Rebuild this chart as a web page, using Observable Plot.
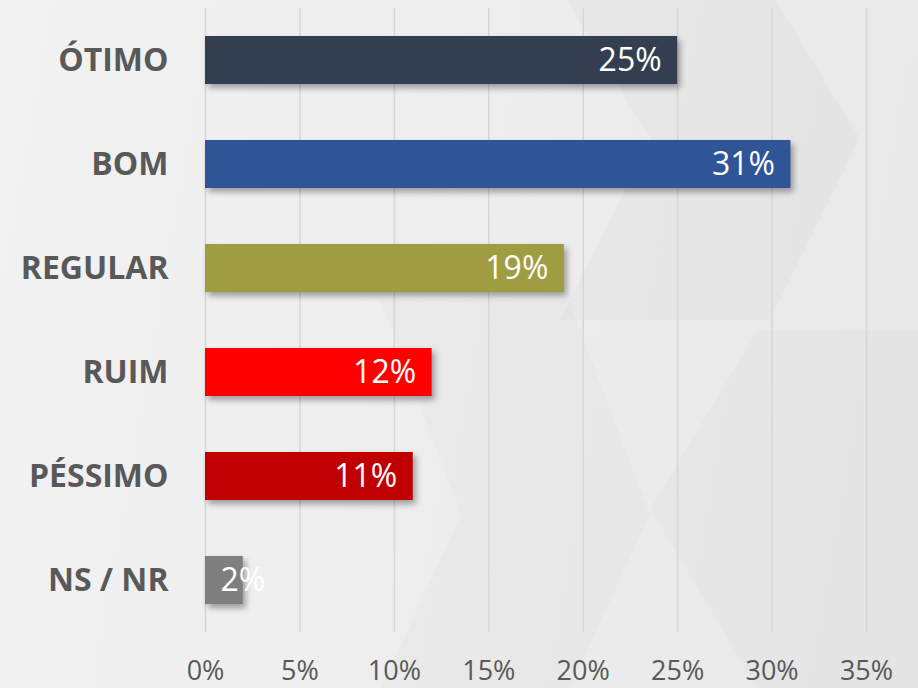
<!DOCTYPE html>
<html>
<head>
<meta charset="utf-8">
<script src="https://cdn.jsdelivr.net/npm/d3@7"></script>
<script src="https://cdn.jsdelivr.net/npm/@observablehq/plot@0.6"></script>
<style>
  html, body { margin: 0; padding: 0; }
  body {
    width: 918px; height: 688px; overflow: hidden; position: relative;
    background: linear-gradient(100deg, #f2f2f2 0%, #eeeeee 45%, #e8e8e8 100%);
  }
  .deco { position: absolute; pointer-events: none; }
  #chart { position: absolute; left: 0; top: 0; }
  #chart svg { background: transparent; }
  .bars rect { filter: drop-shadow(3px 4px 3px rgba(0,0,0,0.35)); }
</style>
</head>
<body>
<div class="deco" style="left:560px;top:-10px;width:300px;height:330px;background:rgba(0,0,0,0.018);clip-path:polygon(0 0,70% 0,100% 45%,70% 100%,0 100%,30% 45%);"></div>
<div class="deco" style="left:380px;top:300px;width:270px;height:390px;background:rgba(0,0,0,0.015);clip-path:polygon(0 0,70% 0,100% 55%,70% 100%,0 100%,30% 55%);"></div>
<div class="deco" style="left:650px;top:330px;width:268px;height:358px;background:rgba(0,0,0,0.015);clip-path:polygon(40% 0,100% 0,100% 100%,40% 100%,0 50%);"></div>
<div id="chart"></div>
<script>
const categories = ["ÓTIMO", "BOM", "REGULAR", "RUIM", "PÉSSIMO", "NS / NR"];
const values = [0.25, 0.31, 0.19, 0.12, 0.11, 0.02];
const colors = ["#333f50", "#2f5597", "#9f9c42", "#ff0000", "#c00000", "#7f7f7f"];
const xTicks = [0, 0.05, 0.10, 0.15, 0.20, 0.25, 0.30, 0.35];

const data = categories.map((c, i) => ({category: c, value: values[i], color: colors[i]}));
const fmt = d3.format(".0%");
const big = data.filter(d => d.value >= 0.05);
const small = data.filter(d => d.value < 0.05);

const chart = Plot.plot({
  width: 918,
  height: 688,
  marginLeft: 205,
  marginRight: 52,
  marginTop: 8,
  marginBottom: 56,
  style: {fontFamily: "'Open Sans', sans-serif", background: "transparent"},
  x: {domain: [0, 0.35], ticks: xTicks, tickFormat: fmt},
  y: {domain: categories, paddingInner: 0.54, paddingOuter: 0.26},
  marks: [
    Plot.gridX(xTicks, {stroke: "#d6d6d6", strokeOpacity: 1, strokeWidth: 1.5}),
    Plot.barX(data, {y: "category", x: "value", fill: "color", className: "bars"}),
    Plot.text(big, {y: "category", x: "value", text: d => fmt(d.value), textAnchor: "end", dx: -16, fill: "white", fontSize: 32}),
    Plot.text(small, {y: "category", x: 0, text: d => fmt(d.value), textAnchor: "start", dx: 15, fill: "white", fontSize: 32}),
    Plot.axisX({ticks: xTicks, tickFormat: fmt, tickSize: 0, tickPadding: 28, fontSize: 27, color: "#595959", label: null}),
    Plot.axisY({tickSize: 0, tickPadding: 37, fontSize: 32, fontWeight: "bold", color: "#595959", label: null})
  ]
});
document.getElementById("chart").appendChild(chart);
</script>
</body>
</html>
